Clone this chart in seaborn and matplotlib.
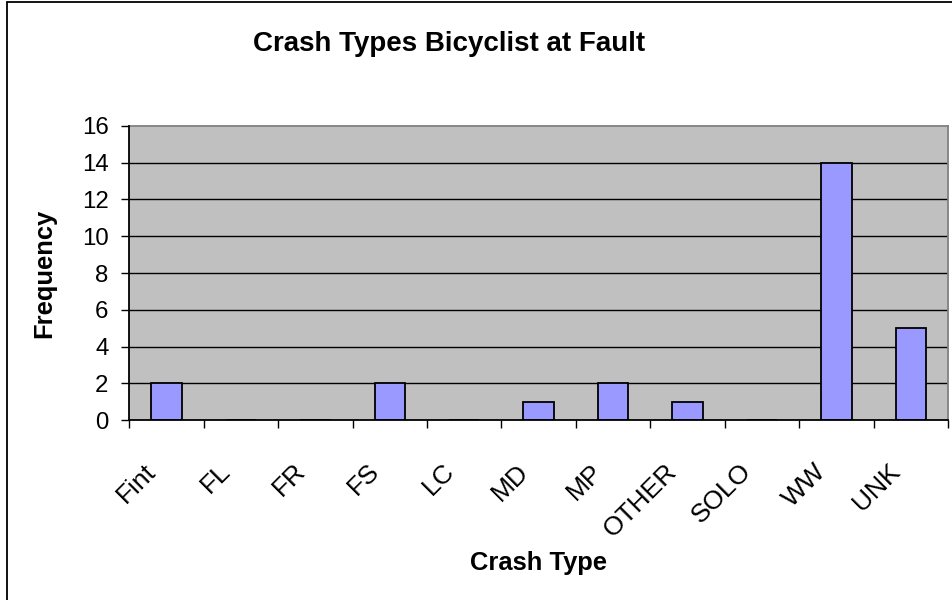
import matplotlib
matplotlib.use("Agg")
import matplotlib.pyplot as plt
import seaborn as sns
import pandas as pd
from matplotlib.patches import Rectangle
from matplotlib.transforms import ScaledTranslation

categories = ["Fint", "FL", "FR", "FS", "LC", "MD", "MP", "OTHER", "SOLO", "WW", "UNK"]
frequency = [2, 0, 0, 2, 0, 1, 2, 1, 0, 14, 5]
y_ticks = [0, 2, 4, 6, 8, 10, 12, 14, 16]

sns.set_theme(style="white")
plt.rcParams["font.family"] = ["Liberation Sans", "DejaVu Sans"]
plt.rcParams["text.color"] = "black"
plt.rcParams["axes.labelcolor"] = "black"
plt.rcParams["xtick.color"] = "black"
plt.rcParams["ytick.color"] = "black"

W, H = 952, 600
fig = plt.figure(figsize=(W / 100, H / 100), dpi=100)
fig.patch.set_facecolor("white")

L, R, T, B = 129.3, 948.0, 125.7, 420.3
ax = fig.add_axes([L / W, 1 - B / H, (R - L) / W, (B - T) / H])
ax.set_facecolor("#C0C0C0")

df = pd.DataFrame({"Crash Type": categories, "Frequency": frequency})
sns.barplot(data=df, x="Crash Type", y="Frequency", order=categories,
            color="#9999FF", saturation=1, edgecolor="black", linewidth=1.3,
            width=0.41, ax=ax, zorder=3)

ax.set_xlim(-0.5, len(categories) - 0.5)
ax.set_ylim(0, 16)
ax.set_yticks(y_ticks)
ax.set_yticklabels([str(v) for v in y_ticks])
for v in y_ticks[1:-1]:
    ax.axhline(v, color="black", lw=1.0, zorder=1)

ax.set_xticks(range(len(categories)))
ax.set_xticklabels(categories)
ax.set_xticks([i - 0.5 for i in range(len(categories) + 1)], minor=True)
ax.tick_params(axis="x", which="major", length=0, pad=14, labelsize=19, labelcolor="black")
ax.tick_params(axis="x", which="minor", length=6, width=1, color="black", direction="out", bottom=True)
ax.tick_params(axis="y", which="major", length=6, width=1, color="black", direction="out", left=True,
               pad=9, labelsize=17.3, labelcolor="black")
shift = ScaledTranslation(-14 / 100, -28 / 100, fig.dpi_scale_trans)
for lab in ax.get_xticklabels():
    lab.set_rotation(45)
    lab.set_ha("right")
    lab.set_va("center")
    lab.set_rotation_mode("anchor")
    lab.set_transform(lab.get_transform() + shift)

for s in ["top", "right"]:
    ax.spines[s].set_color("#808080")
    ax.spines[s].set_linewidth(1.3)
for s in ["left", "bottom"]:
    ax.spines[s].set_color("black")
    ax.spines[s].set_linewidth(1.3)
    ax.spines[s].set_zorder(5)

ax.set_xlabel("Crash Type", fontsize=18.4, fontweight="bold", color="black")
ax.set_ylabel("Frequency", fontsize=18.4, fontweight="bold", color="black")
ax.xaxis.set_label_coords((539 - L) / (R - L), (B - 551) / (B - T))
ax.yaxis.set_label_coords((56 - L) / (R - L), 0.5)

fig.text(449 / W, 1 - 44 / H, "Crash Types Bicyclist at Fault", fontsize=20, fontweight="bold",
         ha="center", va="center", color="black")

fig.patches.append(Rectangle((7 / W, -0.1), 1.2, 1 - 2.5 / H + 0.1, transform=fig.transFigure,
                             fill=False, edgecolor="black", linewidth=1.3))

fig.savefig("out.png", dpi=100)
